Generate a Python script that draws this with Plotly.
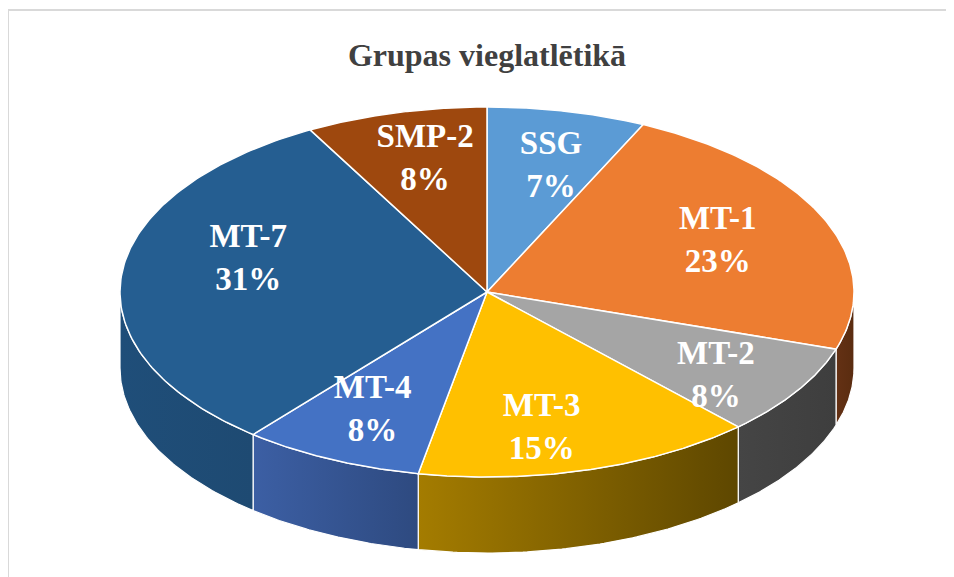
import numpy as np
import plotly.graph_objects as go

# data
labels = ['SSG', 'MT-1', 'MT-2', 'MT-3', 'MT-4', 'MT-7', 'SMP-2']
values = [7, 23, 8, 15, 8, 31, 8]
top_colors = ['#5B9BD5', '#ED7D31', '#A5A5A5', '#FFC000', '#4472C4', '#255E91', '#9E480E']
side_left = ['#2f5f8f', '#643114', '#454545', '#a47c00', '#3c5fa4', '#1f4e79', '#5e2c0a']
side_right = ['#2a5580', '#5a2c10', '#3e3e3e', '#5e4700', '#2e4a80', '#1e4a72', '#5e2c0a']

# geometry of the tilted pie (page pixels)
cx, cy = 487, 292
ra, rb = 367, 185
depth = 76
W, H = 954, 577
off = 8  # body margin of the html page
# small shifts of the labels, like Excel's perspective placement
nudge_x = [8, -5, 12, -17, -5, 17, 2]
nudge_y = [2, 2, 16, 13, 2, -20, -6]


def pt(t, r=1.0, dy=0.0):
    t = np.radians(t)
    return cx + r * ra * np.sin(t), cy - r * rb * np.cos(t) + dy


total = float(sum(values))
angles = np.cumsum([0] + [v / total * 360 for v in values])

fig = go.Figure()

# side walls (front half only: 90..270 deg)
for i, lab in enumerate(labels):
    t0, t1 = max(angles[i], 90), min(angles[i + 1], 270)
    if t1 <= t0:
        continue
    ts = np.linspace(t0, t1, 80)
    xt, yt = pt(ts)
    xb, yb = pt(ts[::-1], dy=depth)
    xs = np.concatenate([xt, xb, xt[:1]])
    ys = np.concatenate([yt, yb, yt[:1]])
    fig.add_trace(go.Scatter(
        x=xs, y=ys, mode='lines', fill='toself',
        line=dict(color='white', width=1.2),
        fillgradient=dict(type='horizontal',
                          colorscale=[[0, side_left[i]], [1, side_right[i]]]),
        hoverinfo='skip', showlegend=False))

# top slices
for i, lab in enumerate(labels):
    ts = np.linspace(angles[i], angles[i + 1], 120)
    xa, ya = pt(ts)
    xs = np.concatenate([[cx], xa, [cx]])
    ys = np.concatenate([[cy], ya, [cy]])
    fig.add_trace(go.Scatter(
        x=xs, y=ys, mode='lines', fill='toself', fillcolor=top_colors[i],
        line=dict(color='white', width=1.5),
        name=lab, hoverinfo='name', showlegend=False))

# labels
mids = (angles[:-1] + angles[1:]) / 2
lx, ly = pt(mids, r=0.7)
lx = lx + np.array(nudge_x)
ly = ly + np.array(nudge_y)
fig.add_trace(go.Scatter(
    x=lx, y=ly, mode='text',
    text=[f'<b>{l}<br>{v}%</b>' for l, v in zip(labels, values)],
    textfont=dict(family='Liberation Serif', size=33, color='white'),
    hoverinfo='skip', showlegend=False))

fig.update_layout(
    width=W, height=H,
    margin=dict(l=0, r=0, t=0, b=0),
    paper_bgcolor='white', plot_bgcolor='white',
    xaxis=dict(range=[off, W + off], visible=False, fixedrange=True),
    yaxis=dict(range=[H + off, off], visible=False, fixedrange=True),
    title=dict(text='<b>Grupas vieglatlētikā</b>', x=(487 - off) / W, xanchor='center',
               y=1 - (55 - off) / H, yanchor='middle',
               font=dict(family='Liberation Serif', size=32, color='#404040')),
    shapes=[dict(type='rect', xref='x', yref='y', x0=8, y0=10, x1=W + 20, y1=H + 20,
                 line=dict(color='#d9d9d9', width=2), layer='below')],
)

fig.write_html('out.html')
